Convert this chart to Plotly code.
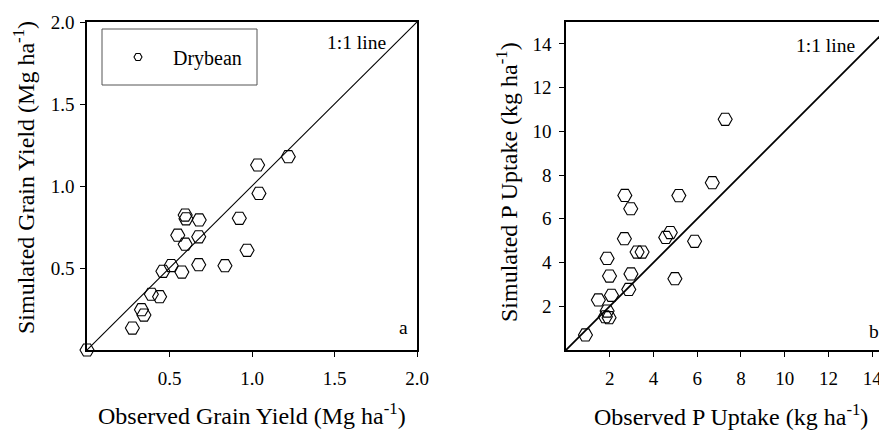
import plotly.graph_objects as go

OFF = 8  # page body margin offset
W, H = 887, 432

# Panel a: grain yield (Mg/ha)
obs_grain = [0.0, 0.275, 0.33, 0.345, 0.39, 0.44, 0.46, 0.51, 0.575, 0.55, 0.595,
             0.595, 0.60, 0.68, 0.677, 0.677, 0.836, 0.923, 0.97, 1.034, 1.042, 1.22]
sim_grain = [0.0, 0.134, 0.246, 0.213, 0.34, 0.325, 0.48, 0.515, 0.475, 0.70, 0.645,
             0.823, 0.80, 0.793, 0.69, 0.52, 0.514, 0.803, 0.608, 1.128, 0.955, 1.179]

# Panel b: P uptake (kg/ha)
obs_p = [0.89, 1.48, 1.88, 1.80, 1.97, 2.08, 1.88, 1.99, 2.69, 2.96, 2.67,
         2.87, 2.97, 3.25, 3.48, 4.56, 4.77, 4.98, 5.16, 5.88, 6.69, 7.28]
sim_p = [0.69, 2.29, 1.78, 1.52, 1.48, 2.50, 4.19, 3.38, 7.07, 6.46, 5.09,
         2.77, 3.48, 4.48, 4.48, 5.15, 5.37, 3.26, 7.06, 4.97, 7.65, 10.55]

line_a = [0, 2]
line_b = [0, 15]

ticks_a = [0.5, 1.0, 1.5, 2.0]
ticklabels_a = ["0.5", "1.0", "1.5", "2.0"]
ticks_b = [2, 4, 6, 8, 10, 12, 14]

FONT = "Liberation Serif, Times New Roman, serif"

def px(x):
    return (x - OFF) / W

def py(y):
    return 1 - (y - OFF) / H

fig = go.Figure()

marker = dict(symbol="hexagon2-open", size=14, color="black", line=dict(width=1.1, color="black"))

fig.add_trace(go.Scatter(x=line_a, y=line_a, mode="lines", line=dict(color="black", width=1.1),
                         xaxis="x", yaxis="y", showlegend=False, hoverinfo="skip"))
fig.add_trace(go.Scatter(x=obs_grain, y=sim_grain, mode="markers", marker=marker,
                         xaxis="x", yaxis="y", showlegend=False, cliponaxis=False))
fig.add_trace(go.Scatter(x=[None], y=[None], mode="markers", name="Drybean",
                         marker=dict(symbol="hexagon2-open", size=8, color="black",
                                     line=dict(width=1.1, color="black")),
                         xaxis="x", yaxis="y", showlegend=True))

fig.add_trace(go.Scatter(x=line_b, y=line_b, mode="lines", line=dict(color="black", width=1.8),
                         xaxis="x2", yaxis="y2", showlegend=False, hoverinfo="skip"))
fig.add_trace(go.Scatter(x=obs_p, y=sim_p, mode="markers", marker=marker,
                         xaxis="x2", yaxis="y2", showlegend=False, cliponaxis=False))

ydom = [py(350), py(22)]

def axis_common():
    return dict(showgrid=False, zeroline=False, showline=True, linecolor="black", linewidth=1.6,
                ticks="outside", ticklen=5, tickwidth=1.2, tickcolor="black", automargin=False,
                tickfont=dict(family=FONT, size=19, color="black"))

fig.update_layout(
    template="none",
    width=W, height=H,
    autosize=False,
    font=dict(family=FONT, size=19, color="black"),
    margin=dict(l=0, r=0, t=0, b=0, pad=0),
    paper_bgcolor="white", plot_bgcolor="white",
    xaxis=dict(domain=[px(87), px(417)], range=[0, 2.0], tickvals=ticks_a, ticktext=ticklabels_a,
               mirror=True, anchor="y", ticklabelstandoff=5, **axis_common()),
    yaxis=dict(domain=ydom, range=[0, 2.0], tickvals=ticks_a, ticktext=ticklabels_a,
               mirror=True, anchor="x", ticklabelstandoff=2, **axis_common()),
    xaxis2=dict(domain=[px(566), px(894)], range=[0, 15], tickvals=ticks_b,
                mirror=True, anchor="y2", ticklabelstandoff=5, **axis_common()),
    yaxis2=dict(domain=ydom, range=[0, 15], tickvals=ticks_b,
                mirror=True, anchor="x2", ticklabelstandoff=4, **axis_common()),
    showlegend=True,
    legend=dict(x=px(103), y=py(57), xanchor="left", yanchor="middle", bgcolor="rgba(0,0,0,0)",
                borderwidth=0, itemwidth=60, font=dict(family=FONT, size=20, color="black")),
    shapes=[dict(type="rect", xref="paper", yref="paper", x0=px(102), x1=px(257), y0=py(85), y1=py(29),
                 line=dict(color="#555555", width=1))],
)

ann_font = dict(family=FONT, size=19.5, color="black")
title_font = dict(family=FONT, size=24, color="black")

def ann(text, x, y, font, angle=0):
    return dict(text=text, x=px(x), y=py(y), xref="paper", yref="paper", showarrow=False,
                xanchor="center", yanchor="middle", font=font, textangle=angle)

annotations = [
    ann("1:1 line", 356, 43, ann_font),
    ann("a", 403, 327, ann_font),
    ann("1:1 line", 825, 45, ann_font),
    ann("b", 874, 331, ann_font),
    ann("Observed Grain Yield (Mg ha<sup>-1</sup>)", 252, 414, title_font),
    ann("Simulated Grain Yield (Mg ha<sup>-1</sup>)", 24, 178, title_font, -90),
    ann("Observed P Uptake (kg ha<sup>-1</sup>)", 731, 415, title_font),
    ann("Simulated P Uptake (kg ha<sup>-1</sup>)", 507, 182, title_font, -90),
]
fig.update_layout(annotations=annotations)

fig.write_html("out.html")
